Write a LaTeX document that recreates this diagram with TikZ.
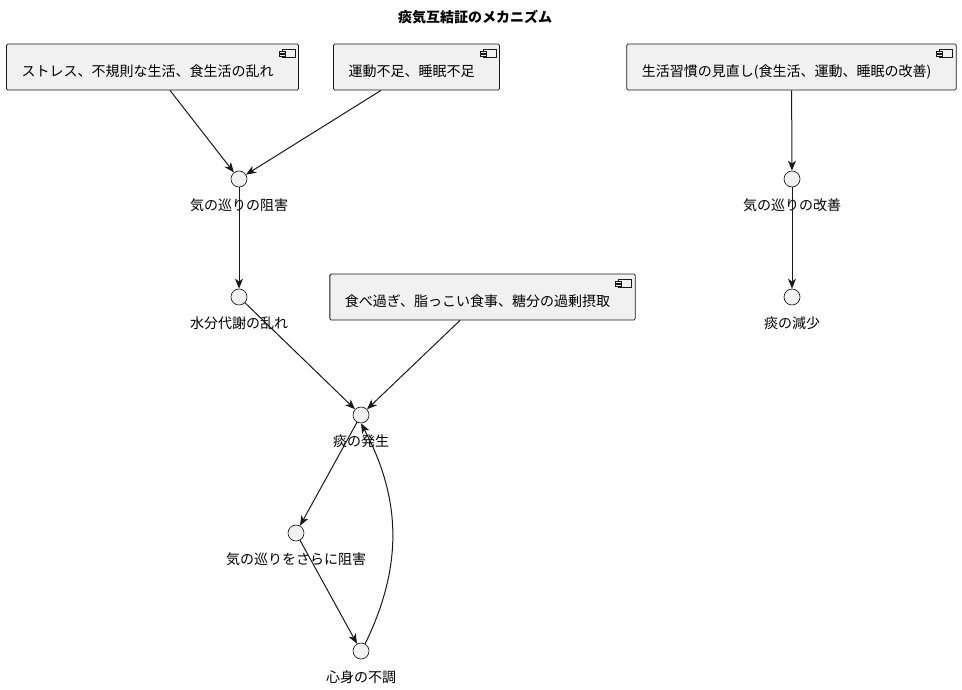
\documentclass[tikz,border=0pt]{standalone}
\usepackage{fontspec}
\setmainfont{Noto Sans CJK JP}
\usepackage{xcolor}
\usepackage{tikz}
\usetikzlibrary{arrows.meta,positioning,calc}

\definecolor{umlfill}{HTML}{F1F1F1}
\definecolor{umlline}{HTML}{181818}

\begin{document}
\begin{tikzpicture}[
  x=0.75pt, y=-0.75pt,
  font=\fontsize{10.5pt}{12pt}\selectfont,
  comp/.style={rectangle,draw=umlline,fill=umlfill,line width=0.6pt,rounded corners=1pt,
               minimum height=34.5pt,inner xsep=11.25pt,inner ysep=3pt,text height=16pt,text depth=2pt,
               execute at end node={\hspace*{7.5pt}}},
  state/.style={circle,draw=umlline,fill=umlfill,line width=0.5pt,minimum size=12pt,inner sep=0pt},
  lbl/.style={inner sep=3pt},
  ar/.style={-{Stealth[length=7.5pt,width=6pt,inset=2.2pt]},draw=umlline,line width=0.75pt}
]
\useasboundingbox (0,0) rectangle (962,689);

% title
\node[font=\fontsize{10.5pt}{12pt}\selectfont\bfseries] (title) at (475,17) {痰気互結証のメカニズム};

% causes (components)
\node[comp] (stress) at (152.5,67) {ストレス、不規則な生活、食生活の乱れ};
\node[comp] (lack)   at (416.5,67) {運動不足、睡眠不足};
\node[comp] (habit)  at (791.5,67) {生活習慣の見直し(食生活、運動、睡眠の改善)};
\node[comp] (diet)   at (482.5,297) {食べ過ぎ、脂っこい食事、糖分の過剰摂取};

% component icons
\foreach \b in {stress,lack,habit,diet}{
  \draw[umlline,fill=umlfill,line width=0.4pt] ($(\b.north east)+(-17,6)$) rectangle ($(\b.north east)+(-4,14)$);
  \draw[umlline,fill=umlfill,line width=0.4pt] ($(\b.north east)+(-20,7.5)$) rectangle ($(\b.north east)+(-14,9.5)$);
  \draw[umlline,fill=umlfill,line width=0.4pt] ($(\b.north east)+(-20,11)$) rectangle ($(\b.north east)+(-14,13)$);
}

% states
\node[state] (qiblock)    at (239,179) {};
\node[state] (water)      at (239,297) {};
\node[state] (phlegm)     at (361,415) {};
\node[state] (qiworse)    at (296,533) {};
\node[state] (unwell)     at (361,651) {};
\node[state] (qiimprove)  at (792,179) {};
\node[state] (phlegmless) at (792,297) {};

% state names
\node[lbl,below=5.5pt of qiblock]    (qiblocktxt)    {気の巡りの阻害};
\node[lbl,below=5.5pt of water]      (watertxt)      {水分代謝の乱れ};
\node[lbl,below=5.5pt of phlegm]     (phlegmtxt)     {痰の発生};
\node[lbl,below=5.5pt of qiworse]    (qiworsetxt)    {気の巡りをさらに阻害};
\node[lbl,below=5.5pt of unwell]     (unwelltxt)     {心身の不調};
\node[lbl,below=5.5pt of qiimprove]  (qiimprovetxt)  {気の巡りの改善};
\node[lbl,below=5.5pt of phlegmless] (phlegmlesstxt) {痰の減少};

% connectors
\draw[ar] ($(stress.south)+(17.5,0)$) -- (qiblock);
\draw[ar] ($(lack.south)+(-35.5,0)$) -- (qiblock);
\draw[ar] (qiblock) -- (water);
\draw[ar] (water) -- (phlegm);
\draw[ar] ($(diet.south)+(-22.5,0)$) -- (phlegm);
\draw[ar] (phlegm) -- (qiworse);
\draw[ar] (qiworse) -- (unwell);
\draw[ar] (unwell.60) to[bend right=27] (phlegm.south);
\draw[ar] (habit) -- (qiimprove);
\draw[ar] (qiimprove) -- (phlegmless);
\end{tikzpicture}
\end{document}
